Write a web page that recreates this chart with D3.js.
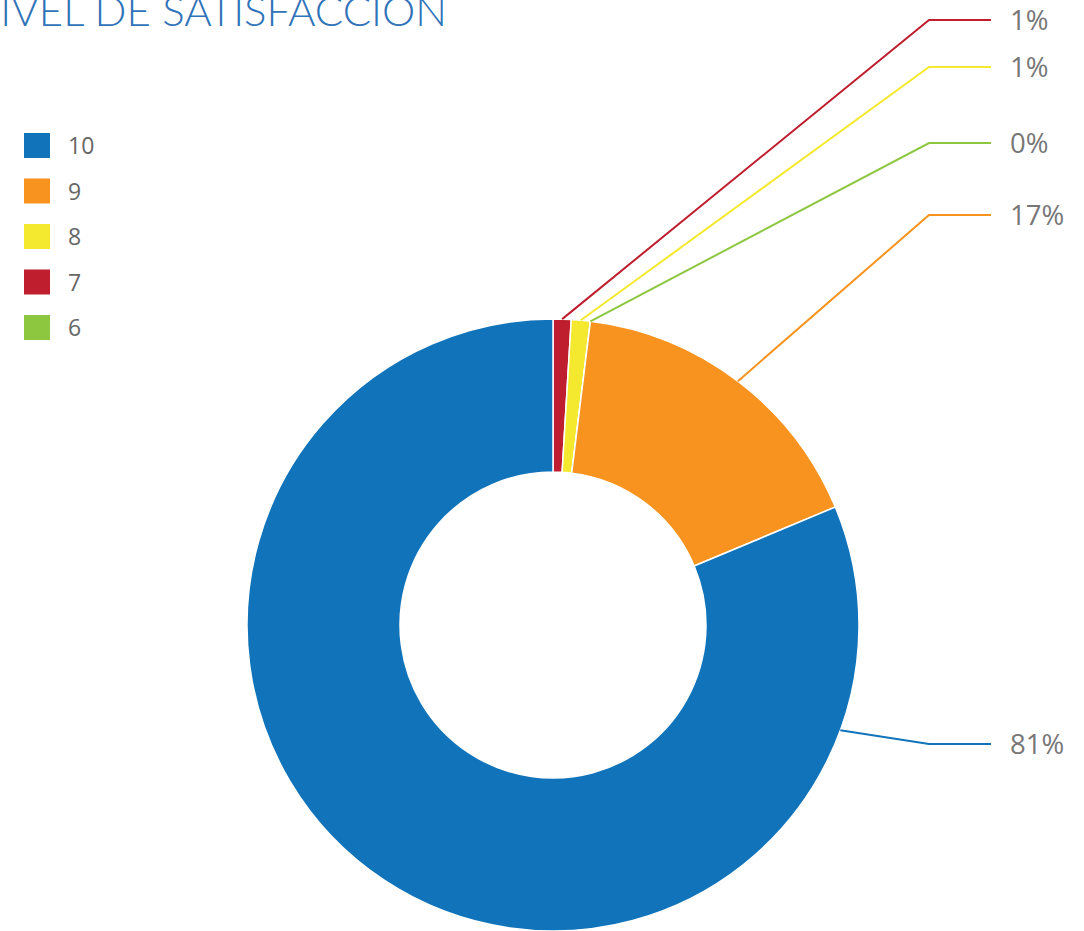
<!DOCTYPE html>
<meta charset="utf-8" />
<style>
  body { margin: 0; background: #fff; }
  text { font-family: "Open Sans", sans-serif; }
</style>
<svg width="1084" height="931"></svg>
<script src="https://d3js.org/d3.v7.min.js"></script>
<script>
    // data, drawn clockwise from 12 o'clock as in the original
    var categories = ["7", "8", "6", "9", "10"];
    var values = [0.95, 1.0, 0.0, 16.75, 81.3];
    var percentLabels = ["1%", "1%", "0%", "17%", "81%"];
    var colors = ["#be1e2d", "#f4e92e", "#8dc63f", "#f7931e", "#1174bb"];
    var legendOrder = ["10", "9", "8", "7", "6"];

    var svg = d3.select("svg");
    var cx = 553, cy = 625, outerR = 306, innerR = 153;

    // title (cut at the left edge like the original)
    svg.append("text")
        .attr("x", 447)
        .attr("y", 26)
        .attr("text-anchor", "end")
        .style("font-family", "Lato, sans-serif")
        .style("font-size", "42px")
        .style("font-weight", 300)
        .style("fill", "#2f73b9")
        .text("NIVEL DE SATISFACCION");

    var color = d3.scaleOrdinal().domain(categories).range(colors);

    var rows = categories.map(function (c, i) {
        return { cat: c, value: values[i], label: percentLabels[i] };
    });

    var pie = d3.pie().sort(null).value(d => d.value);
    var arcs = pie(rows);
    var arc = d3.arc().innerRadius(innerR).outerRadius(outerR);

    var g = svg.append("g").attr("transform", "translate(" + cx + "," + cy + ")");

    g.selectAll("path")
        .data(arcs)
        .enter()
        .append("path")
        .attr("d", arc)
        .attr("fill", d => color(d.data.cat))
        .attr("stroke", "#fff")
        .attr("stroke-width", 1.5);

    // label layout: where the leader line elbows (right column)
    var elbowX = 929, lineEndX = 991, textX = 1010;
    var labelY = { "7": 20, "8": 67, "6": 143, "9": 215, "10": 744 };

    function anchorAngle(d) {
        var mid = (d.startAngle + d.endAngle) / 2;
        // large slice: keep the anchor on the right side
        if (mid > Math.PI) return d.startAngle + 0.38 * (Math.PI - d.startAngle);
        return mid;
    }

    var labels = svg.append("g");
    arcs.forEach(function (d) {
        var a = anchorAngle(d);
        var x0 = cx + outerR * Math.sin(a);
        var y0 = cy - outerR * Math.cos(a);
        var ly = labelY[d.data.cat];
        labels.append("polyline")
            .attr("points", [[x0, y0], [elbowX, ly], [lineEndX, ly]].map(p => p.join(",")).join(" "))
            .attr("fill", "none")
            .attr("stroke", color(d.data.cat))
            .attr("stroke-width", 2);
        labels.append("text")
            .attr("x", textX)
            .attr("y", ly)
            .attr("dy", "0.35em")
            .style("font-size", "27.5px")
            .style("fill", "#777")
            .text(d.data.label);
    });

    // legend
    var legend = svg.append("g")
        .selectAll("g")
        .data(legendOrder)
        .enter()
        .append("g")
        .attr("transform", (d, i) => "translate(24," + (133 + i * 45.5) + ")");

    legend.append("rect")
        .attr("width", 26)
        .attr("height", 25)
        .attr("fill", d => color(d));

    legend.append("text")
        .attr("x", 44)
        .attr("y", 13)
        .attr("dy", "0.35em")
        .style("font-size", "23px")
        .style("fill", "#666")
        .text(d => d);
</script>
